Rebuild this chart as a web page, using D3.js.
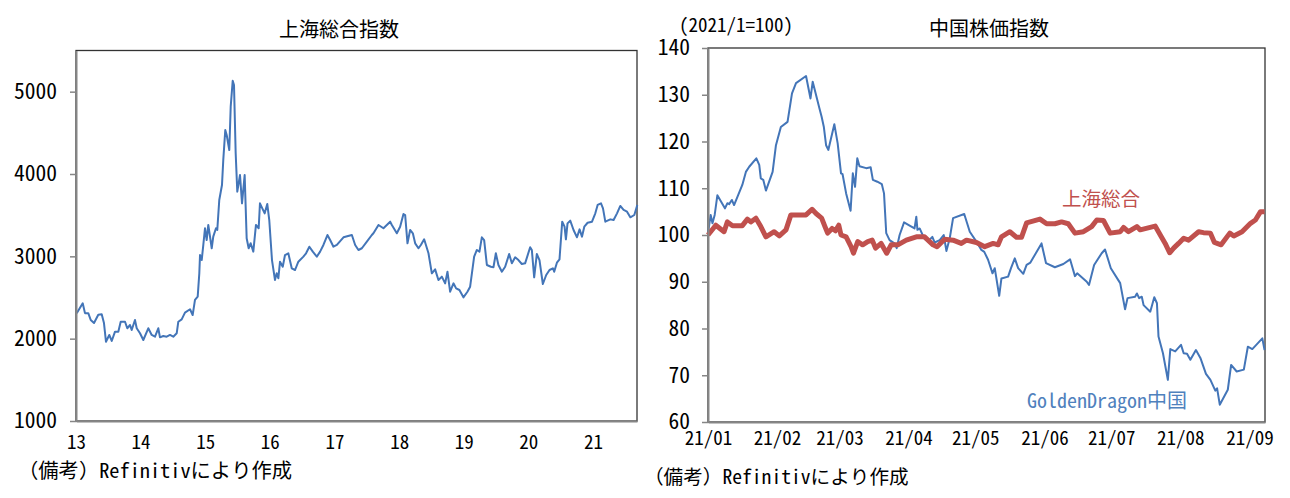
<!DOCTYPE html>
<html lang="ja">
<head>
<meta charset="UTF-8">
<title>上海総合指数・中国株価指数</title>
<script src="https://cdn.jsdelivr.net/npm/d3@7"></script>
<style>
  body { margin: 0; background: #fff; }
  svg text { font-family: 'Noto Sans Mono CJK JP', 'Noto Sans CJK JP', sans-serif; }
</style>
</head>
<body>
<svg width="1290" height="498" id="mainsvg"></svg>
<script>
// 上海総合指数 (decimal year / index level)
const shYears = [2013.011, 2013.104, 2013.139, 2013.190, 2013.228, 2013.279, 2013.345, 2013.398, 2013.433, 2013.464,
  2013.515, 2013.553, 2013.604, 2013.655, 2013.692, 2013.759, 2013.794, 2013.836, 2013.862, 2013.913,
  2013.940, 2013.991, 2014.042, 2014.119, 2014.172, 2014.223, 2014.274, 2014.300, 2014.351, 2014.404,
  2014.455, 2014.506, 2014.559, 2014.584, 2014.636, 2014.687, 2014.765, 2014.806, 2014.842, 2014.884,
  2014.909, 2014.920, 2014.946, 2014.971, 2014.997, 2015.023, 2015.048, 2015.101, 2015.125, 2015.167,
  2015.187, 2015.218, 2015.260, 2015.280, 2015.311, 2015.333, 2015.373, 2015.395, 2015.426, 2015.446,
  2015.472, 2015.497, 2015.539, 2015.570, 2015.611, 2015.642, 2015.673, 2015.704, 2015.745, 2015.786,
  2015.828, 2015.848, 2015.884, 2015.921, 2015.961, 2015.992, 2016.034, 2016.080, 2016.107, 2016.132,
  2016.158, 2016.200, 2016.235, 2016.286, 2016.339, 2016.390, 2016.441, 2016.519, 2016.560, 2016.611,
  2016.664, 2016.726, 2016.777, 2016.828, 2016.890, 2016.932, 2016.983, 2017.036, 2017.138, 2017.268,
  2017.319, 2017.370, 2017.423, 2017.500, 2017.577, 2017.602, 2017.680, 2017.757, 2017.861, 2017.887,
  2017.964, 2018.015, 2018.067, 2018.093, 2018.129, 2018.170, 2018.212, 2018.248, 2018.299, 2018.336,
  2018.387, 2018.454, 2018.506, 2018.557, 2018.608, 2018.661, 2018.712, 2018.748, 2018.789, 2018.841,
  2018.882, 2018.933, 2018.995, 2019.057, 2019.099, 2019.161, 2019.203, 2019.243, 2019.280, 2019.316,
  2019.358, 2019.420, 2019.460, 2019.497, 2019.537, 2019.590, 2019.641, 2019.703, 2019.745, 2019.796,
  2019.847, 2019.899, 2019.950, 2020.028, 2020.054, 2020.090, 2020.131, 2020.172, 2020.224, 2020.276,
  2020.327, 2020.379, 2020.399, 2020.441, 2020.481, 2020.523, 2020.559, 2020.580, 2020.605, 2020.647,
  2020.698, 2020.751, 2020.791, 2020.828, 2020.864, 2020.915, 2020.983, 2021.034, 2021.070, 2021.122,
  2021.153, 2021.189, 2021.266, 2021.317, 2021.370, 2021.421, 2021.472, 2021.525, 2021.576, 2021.638,
  2021.684];
const shIndex = [2308, 2430, 2310, 2310, 2227, 2190, 2290, 2296, 2190, 1963,
  2045, 1972, 2085, 2085, 2206, 2206, 2126, 2166, 2105, 2227,
  2126, 2065, 1984, 2126, 2045, 2024, 2126, 2016, 2032, 2024,
  2045, 2024, 2065, 2206, 2235, 2316, 2357, 2287, 2470, 2510,
  2794, 3016, 2955, 3138, 3341, 3198, 3381, 3098, 3239, 3341,
  3320, 3684, 3866, 4170, 4534, 4474, 4292, 4818, 5133, 5081,
  4251, 3785, 3988, 3644, 3988, 3219, 3098, 3159, 3057, 3381,
  3341, 3644, 3583, 3522, 3636, 3441, 2955, 2713, 2794, 2733,
  2935, 2874, 3016, 3037, 2855, 2834, 2935, 2996, 3037, 3117,
  3057, 2996, 3057, 3138, 3259, 3198, 3117, 3138, 3231, 3259,
  3138, 3077, 3098, 3178, 3259, 3280, 3381, 3341, 3421, 3381,
  3280, 3360, 3514, 3502, 3158, 3320, 3280, 3158, 3098, 3138,
  3207, 3037, 2794, 2842, 2713, 2753, 2672, 2813, 2570, 2672,
  2611, 2591, 2502, 2570, 2631, 2996, 3077, 3057, 3231, 3198,
  2895, 2874, 2867, 3037, 2895, 2813, 2874, 3028, 2915, 2988,
  2955, 2907, 2915, 3110, 3077, 2745, 3028, 2955, 2664, 2773,
  2834, 2855, 2813, 2923, 2963, 3421, 3360, 3207, 3400, 3433,
  3320, 3231, 3328, 3239, 3360, 3408, 3421, 3522, 3624, 3644,
  3583, 3421, 3449, 3441, 3522, 3612, 3563, 3542, 3474, 3502,
  3624];
const shTicks = [1000, 2000, 3000, 4000, 5000];
const shYearLabels = [2013, 2014, 2015, 2016, 2017, 2018, 2019, 2020, 2021];

// 中国株価指数 (days after 2021/1/1, 2021/1=100)
const gdDays = [0, 1.2, 2, 3, 4.2, 7.6, 8.7, 9.5, 10.7, 11.7, 15.4, 17, 18.5, 21.7, 23, 23.7, 24.8, 26, 29, 30.5,
  32.7, 35.7, 37.7, 39.5, 44, 46, 47, 50, 51, 52, 53, 54, 56.7, 58.2, 59.7, 60.4, 62, 64, 65, 66,
  67, 68, 71, 73, 74, 76, 78, 79, 80, 81.5, 83.7, 84.7, 86, 88, 90.5, 92.7, 93.5, 94, 95, 97,
  98.7, 100.7, 101.7, 104, 105.8, 107, 108.5, 110, 115, 117.5, 121, 122.7, 124, 125.7, 127.7, 128.7, 130.7, 131.7, 134.7, 136,
  137.7, 139.2, 141.5, 143, 144.7, 149.7, 151.7, 155.7, 159.5, 162.5, 164.7, 165.7, 170, 171, 173.3, 176.7, 178.2, 180.8, 185, 187.2,
  188.3, 191.7, 192.5, 193.5, 194.7, 195.5, 198.5, 200.3, 201.5, 202.2, 204.2, 206.4, 207.5, 209.7, 212.3, 213.5, 215, 216.5, 219, 221,
  223.5, 225.5, 227.7, 228.5, 229.7, 233.3, 234.8, 237.3, 240.5, 242.3, 244.3, 248.8, 249.8];
const gdValues = [100.4, 104.3, 102.5, 104.3, 108.5, 105.7, 106.8, 106.6, 107.5, 106.4, 110.7, 113.5, 114.6, 116.4, 115.0, 112.1, 111.8, 109.5, 113.5, 119.2,
  123.1, 124.2, 130.3, 132.5, 134.0, 129.2, 132.8, 127.1, 125.3, 123.1, 119.2, 118.2, 123.7, 119.6, 113.2, 113.0, 108.9, 105.2, 113.2, 110.3,
  116.4, 114.7, 114.3, 114.5, 111.8, 111.4, 110.9, 108.9, 100.4, 98.9, 98.2, 97.2, 100, 102.7, 102.0, 101.4, 103.9, 101.1, 101.4, 99.3,
  98.6, 99.6, 98.4, 98.9, 100, 96.6, 99.3, 103.6, 104.5, 100.7, 98.2, 96.8, 96.4, 94.7, 91.8, 92.9, 87.0, 90.7, 91.1, 92.9,
  95.0, 92.9, 91.7, 93.6, 94.1, 98.2, 94.0, 93.1, 93.8, 94.8, 91.2, 91.8, 90.0, 89.3, 93.6, 96.1, 96.9, 92.9, 89.7, 84.1,
  86.5, 86.8, 87.5, 86.5, 86.8, 85.0, 83.6, 86.7, 85.4, 78.3, 74.7, 69.0, 75.6, 75.1, 76.5, 74.7, 74.6, 73.3, 75.4, 73.7,
  70.3, 69.0, 66.7, 67.2, 63.7, 66.9, 72.2, 70.8, 71.2, 76.1, 75.6, 77.9, 75.4];
const scDays = [0, 3.5, 7.2, 8.7, 11, 15.4, 17.7, 19.2, 21.5, 23.7, 26, 29.7, 32, 35, 37.2, 41, 44, 46.7, 48.5, 51,
  52.5, 53.7, 55.7, 57.2, 58.7, 59.7, 62, 64.2, 65.3, 67.2, 69.4, 71.7, 73.7, 75.2, 77.7, 80.2, 82.2, 85.2, 89, 93.5,
  97.2, 101, 102.8, 106.2, 110, 113.7, 116, 120.5, 124.2, 128, 130.2, 131.7, 135.5, 138.5, 140.7, 143, 149, 152, 155.7, 158.7,
  161.7, 164.7, 168.5, 172.2, 174.5, 177.5, 180.5, 185, 186.5, 188.7, 192.5, 194, 200.7, 203, 205.2, 207.2, 209, 211.2, 213.5, 215.7,
  220.2, 222.4, 225.5, 227.3, 230.3, 234.2, 236, 239.7, 243.5, 245.7, 248, 249.8];
const scValues = [100, 102.1, 100.7, 102.8, 102, 102, 103.4, 102.8, 103.6, 101.8, 99.6, 100.7, 99.8, 101.1, 104.3, 104.3, 104.3, 105.5, 104.6, 103.6,
  101.8, 100.4, 101.4, 100.9, 102.1, 100, 99.6, 97.5, 96.1, 98.6, 97.9, 98.6, 98.9, 97.2, 98.2, 96.1, 97.9, 97.9, 98.9, 99.6,
  99.6, 97.9, 97.5, 99.1, 98.9, 98.2, 98.9, 98.4, 97.5, 98.2, 97.9, 99.6, 100.7, 99.5, 99.5, 102.6, 103.4, 102.4, 102.4, 102.8,
  102.4, 100.4, 100.7, 101.8, 103.2, 103.1, 100.4, 100.7, 101.6, 100.7, 101.8, 101.1, 101.9, 100, 98.2, 96.2, 97.2, 98.2, 99.3, 98.9,
  100.7, 100.5, 100.4, 98.4, 97.9, 100.4, 99.8, 100.7, 102.5, 103.2, 105.0, 105.0];
const idxTicks = [60, 70, 80, 90, 100, 110, 120, 130, 140];
const monthLabels = ['2021-01', '2021-02', '2021-03', '2021-04', '2021-05', '2021-06', '2021-07', '2021-08', '2021-09'];

const blue = '#4375b8';
const red = '#c0504d';
const axisGray = '#868686';

const svg = d3.select('#mainsvg');

// half-width chars count 0.5em, full-width 1em
function emWidth(s) {
    let w = 0;
    for (const c of s) w += c.codePointAt(0) < 0x2000 ? 0.5 : 1;
    return w;
}
function fit(sel, size) {
    sel.attr('font-size', size)
        .attr('lengthAdjust', 'spacingAndGlyphs')
        .attr('textLength', function() { return emWidth(this.textContent) * size; });
}
function label(x, y, str, size, anchor, color) {
    const t = svg.append('text').attr('x', x).attr('y', y).attr('dy', '0.35em')
        .attr('text-anchor', anchor).attr('fill', color || '#000').text(str);
    fit(t, size);
    return t;
}
function styleAxis(g) {
    g.select('.domain').attr('stroke', axisGray).attr('stroke-width', 2);
    g.selectAll('.tick line').attr('stroke', axisGray).attr('stroke-width', 1.5);
    g.selectAll('.tick text').attr('fill', '#000');
}

const fromYear = y => {
    const yr = Math.floor(y);
    const a = new Date(yr, 0, 1), b = new Date(yr + 1, 0, 1);
    return new Date(+a + (y - yr) * (b - a));
};
const fromDay = d => new Date(+new Date(2021, 0, 1) + d * 864e5);

// ---------- 上海総合指数 ----------
const L = { x0: 76, x1: 637, y0: 50.5, y1: 421 };
const xL = d3.scaleTime().domain([new Date(2013, 0, 1), new Date(2021, 8, 6)]).range([L.x0, L.x1]);
const yL = d3.scaleLinear().domain([1000, 5500]).range([L.y1, L.y0]);

svg.append('rect').attr('x', L.x0).attr('y', L.y0)
    .attr('width', L.x1 - L.x0).attr('height', L.y1 - L.y0)
    .attr('fill', 'none').attr('stroke', '#333').attr('stroke-width', 1.3);

svg.append('path').datum(shIndex)
    .attr('fill', 'none').attr('stroke', blue).attr('stroke-width', 2)
    .attr('stroke-linejoin', 'round')
    .attr('d', d3.line().x((d, i) => xL(fromYear(shYears[i]))).y(d => yL(d)));

const gxL = svg.append('g').attr('transform', `translate(0,${L.y1})`)
    .call(d3.axisBottom(xL).tickValues(shYearLabels.map(y => new Date(y, 0, 1)))
        .tickSize(0).tickSizeOuter(0).tickFormat(d3.timeFormat('%y')));
gxL.selectAll('.tick text').attr('y', 21).attr('dy', '0.35em');
styleAxis(gxL);
fit(gxL.selectAll('.tick text'), 19);

const gyL = svg.append('g').attr('transform', `translate(${L.x0},0)`)
    .call(d3.axisLeft(yL).tickValues(shTicks).tickSize(6).tickSizeOuter(0).tickPadding(13)
        .tickFormat(d3.format('d')));
styleAxis(gyL);
fit(gyL.selectAll('.tick text'), 21.5);

label(339, 30, '上海総合指数', 20, 'middle');
label(18, 471, '（備考）Refinitivにより作成', 20.3, 'start');

// ---------- 中国株価指数 ----------
const R = { x0: 708, x1: 1265, y0: 48, y1: 422 };
const xR = d3.scaleTime().domain([new Date(2021, 0, 1), new Date(2021, 8, 8)]).range([R.x0, R.x1]);
const yR = d3.scaleLinear().domain([60, 140]).range([R.y1, R.y0]);

svg.append('rect').attr('x', R.x0).attr('y', R.y0)
    .attr('width', R.x1 - R.x0).attr('height', R.y1 - R.y0)
    .attr('fill', 'none').attr('stroke', '#333').attr('stroke-width', 1.3);

svg.append('path').datum(gdValues)
    .attr('fill', 'none').attr('stroke', blue).attr('stroke-width', 2)
    .attr('stroke-linejoin', 'round')
    .attr('d', d3.line().x((d, i) => xR(fromDay(gdDays[i]))).y(d => yR(d)));

svg.append('path').datum(scValues)
    .attr('fill', 'none').attr('stroke', red).attr('stroke-width', 5)
    .attr('stroke-linejoin', 'round')
    .attr('d', d3.line().x((d, i) => xR(fromDay(scDays[i]))).y(d => yR(d)));

const parseMonth = d3.timeParse('%Y-%m');
const gxR = svg.append('g').attr('transform', `translate(0,${R.y1})`)
    .call(d3.axisBottom(xR).tickValues(monthLabels.map(parseMonth))
        .tickSize(0).tickSizeOuter(0).tickFormat(d3.timeFormat('%y/%m')));
gxR.selectAll('.tick text').attr('y', 16).attr('dy', '0.35em');
styleAxis(gxR);
fit(gxR.selectAll('.tick text'), 19);

const gyR = svg.append('g').attr('transform', `translate(${R.x0},0)`)
    .call(d3.axisLeft(yR).tickValues(idxTicks).tickSize(6).tickSizeOuter(0).tickPadding(12));
styleAxis(gyR);
fit(gyR.selectAll('.tick text'), 21.5);

label(989, 29, '中国株価指数', 20, 'middle');
label(679, 25, '(2021/1=100)', 19, 'start');
label(1101, 199, '上海総合', 19.5, 'middle', red);
label(1107, 401, 'GoldenDragon中国', 20, 'middle', '#4f81bd');
label(644, 477, '（備考）Refinitivにより作成', 19.6, 'start');
</script>
</body>
</html>
